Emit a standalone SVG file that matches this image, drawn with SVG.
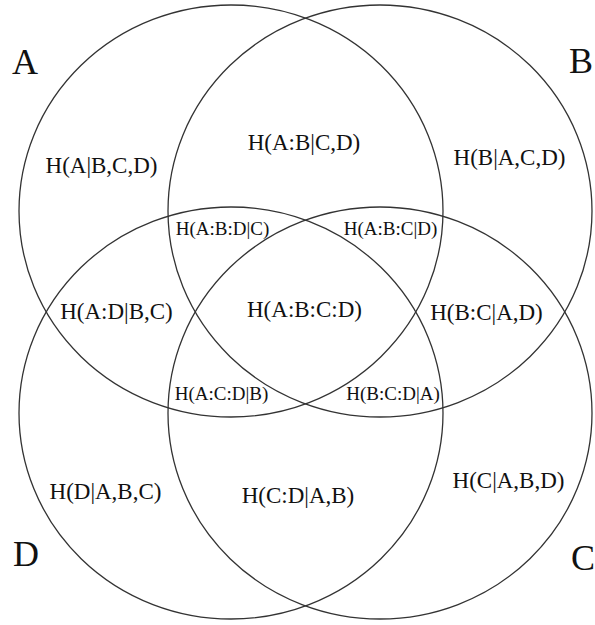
<svg xmlns="http://www.w3.org/2000/svg" width="595" height="625" viewBox="0 0 595 625">
  <style>
    .set { fill: none; stroke: #333; stroke-width: 1.3; }
    .big { font-family: "Liberation Serif", "Times New Roman", serif; font-size: 36px; fill: #111; }
    .lbl { font-family: "Liberation Serif", "Times New Roman", serif; font-size: 23px; fill: #111; text-anchor: middle; }
    .sm { font-family: "Liberation Serif", "Times New Roman", serif; font-size: 19px; fill: #111; text-anchor: middle; }
  </style>
  <rect width="595" height="625" fill="#fff"/>

  <!-- the four sets -->
  <g id="sets">
    <ellipse id="set-A" class="set" cx="231" cy="211" rx="212" ry="206"/>
    <ellipse id="set-B" class="set" cx="380" cy="211" rx="212" ry="206"/>
    <ellipse id="set-D" class="set" cx="231" cy="413" rx="212" ry="206"/>
    <ellipse id="set-C" class="set" cx="380" cy="413" rx="212" ry="206"/>
  </g>

  <!-- set names -->
  <g id="names">
    <text class="big" x="12" y="74">A</text>
    <text class="big" x="569" y="73">B</text>
    <text class="big" x="13" y="566">D</text>
    <text class="big" x="571" y="570">C</text>
  </g>

  <!-- region labels -->
  <g id="regions">
    <text class="lbl" x="101.5" y="173">H(A|B,C,D)</text>
    <text class="lbl" x="304" y="150">H(A:B|C,D)</text>
    <text class="lbl" x="509.5" y="165">H(B|A,C,D)</text>
    <text class="lbl" x="116.5" y="319">H(A:D|B,C)</text>
    <text class="lbl" x="304.5" y="317">H(A:B:C:D)</text>
    <text class="lbl" x="486.5" y="320">H(B:C|A,D)</text>
    <text class="lbl" x="105.5" y="499">H(D|A,B,C)</text>
    <text class="lbl" x="298" y="503">H(C:D|A,B)</text>
    <text class="lbl" x="508.5" y="488">H(C|A,B,D)</text>
    <text class="sm" x="222.5" y="235">H(A:B:D|C)</text>
    <text class="sm" x="390.5" y="235">H(A:B:C|D)</text>
    <text class="sm" x="221.5" y="400">H(A:C:D|B)</text>
    <text class="sm" x="393" y="400">H(B:C:D|A)</text>
  </g>
</svg>
